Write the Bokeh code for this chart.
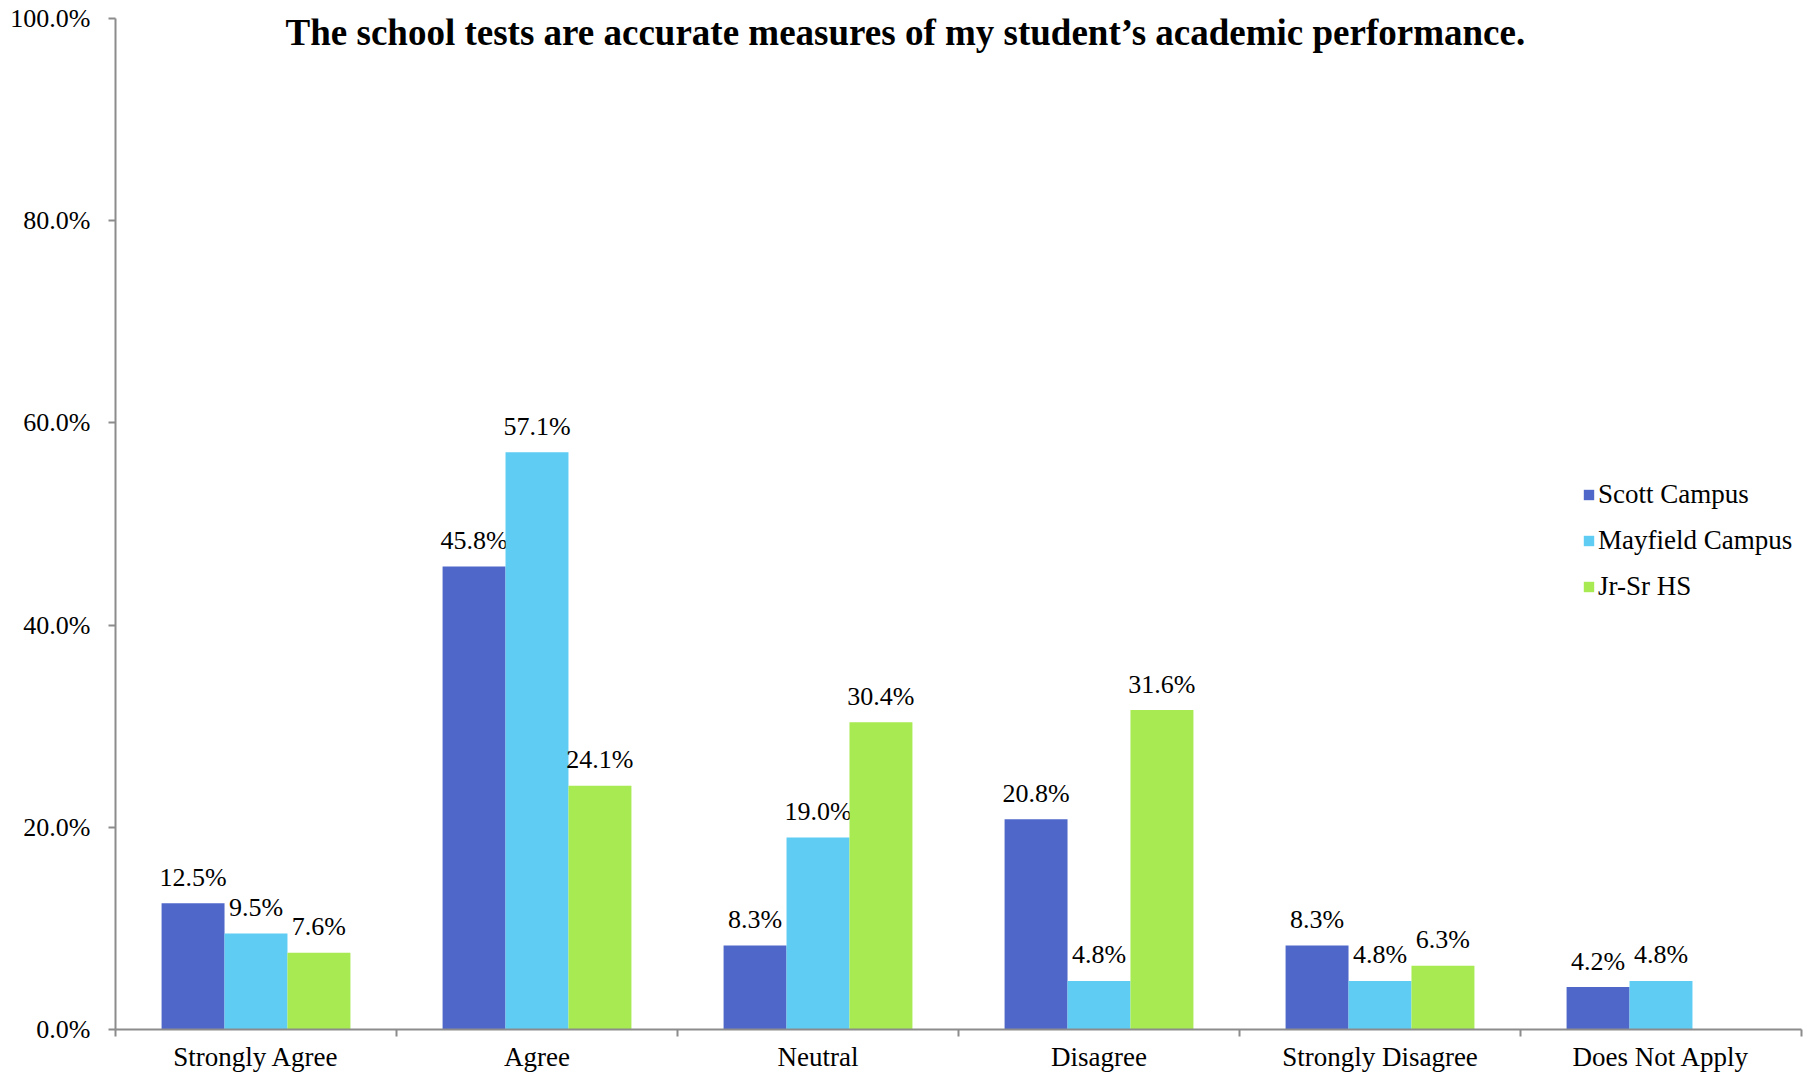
from bokeh.plotting import figure
from bokeh.models import (Range1d, FixedTicker, PrintfTickFormatter, Label,
                          Legend, LegendItem, ColumnDataSource)
from bokeh.core.properties import value
from bokeh.embed import file_html
from bokeh.resources import INLINE

# ---- data ----
categories = ["Strongly Agree", "Agree", "Neutral", "Disagree",
              "Strongly Disagree", "Does Not Apply"]
series_names = ["Scott Campus", "Mayfield Campus", "Jr-Sr HS"]
scott = [12.5, 45.8, 8.3, 20.8, 8.3, 4.2]
mayfield = [9.5, 57.1, 19.0, 4.8, 4.8, 4.8]
jrsr = [7.6, 24.1, 30.4, 31.6, 6.3, None]
colors = ["#4E67C8", "#5ECCF3", "#A7EA52"]
y_ticks = [0, 20, 40, 60, 80, 100]
title_text = "The school tests are accurate measures of my student\u2019s academic performance."

FONT = "Liberation Serif"
bar_w = 0.224
offsets = [-bar_w, 0.0, bar_w]

p = figure(width=1806, height=1074, output_backend="svg", toolbar_location=None,
           x_range=Range1d(0, len(categories)), y_range=Range1d(0, 100),
           min_border_left=115, min_border_right=5, min_border_top=18,
           min_border_bottom=0)
p.outline_line_color = None
p.xgrid.visible = False
p.ygrid.visible = False
p.background_fill_color = "white"
p.border_fill_color = "white"

renderers = []
for vals, off, col, name in zip([scott, mayfield, jrsr], offsets, colors, series_names):
    xs = [i + 0.5 + off for i in range(len(categories))]
    tops = [float("nan") if v is None else v for v in vals]
    labels = ["" if v is None else f"{v:.1f}%" for v in vals]
    src = ColumnDataSource(dict(x=xs, top=tops, label=labels))
    r = p.vbar(x="x", top="top", bottom=0, width=bar_w, source=src,
               fill_color=col, line_color=None)
    renderers.append((name, r))
    p.text(x="x", y="top", text="label", source=src, text_align="center",
           text_baseline="alphabetic", y_offset=-26,
           text_font=value(FONT), text_font_size="26px", text_color="black")

# axes
axis_gray = "#8C8C8C"
yax = p.yaxis[0]
yax.ticker = FixedTicker(ticks=y_ticks)
yax.formatter = PrintfTickFormatter(format="%.1f%%")
yax.major_tick_out = 7
yax.major_tick_in = 0
yax.minor_tick_out = 0
yax.minor_tick_in = 0
yax.major_label_standoff = 18
yax.axis_line_color = axis_gray
yax.axis_line_width = 2
yax.major_tick_line_color = axis_gray
yax.major_tick_line_width = 2
yax.major_label_text_font = FONT
yax.major_label_text_font_size = "26px"
yax.major_label_text_color = "black"

xax = p.xaxis[0]
centers = [i + 0.5 for i in range(len(categories))]
xax.ticker = FixedTicker(ticks=centers, minor_ticks=list(range(len(categories) + 1)))
xax.major_label_overrides = {c: lab for c, lab in zip(centers, categories)}
xax.major_tick_out = 0
xax.major_tick_in = 0
xax.minor_tick_out = 7
xax.minor_tick_in = 0
xax.minor_tick_line_color = axis_gray
xax.minor_tick_line_width = 2
xax.major_label_standoff = 5
xax.axis_line_color = axis_gray
xax.axis_line_width = 2
xax.major_label_text_font = FONT
xax.major_label_text_font_size = "27px"
xax.major_label_text_color = "black"

# title
title = Label(x=2.811, y=98.6, text=title_text, text_align="center",
              text_baseline="middle", text_font=FONT, text_font_size="37px",
              text_font_style="bold", text_color="black")
p.add_layout(title)

legend = Legend(items=[LegendItem(label=n, renderers=[r]) for n, r in renderers],
                location=(1467, 427), orientation="vertical",
                padding=0, margin=0, spacing=15,
                glyph_width=13, glyph_height=13, label_standoff=3,
                label_height=30, label_text_font=FONT,
                label_text_font_size="27px", label_text_color="black",
                border_line_color=None, background_fill_alpha=0)
p.add_layout(legend)

open("out.html", "w").write(file_html(p, INLINE))
